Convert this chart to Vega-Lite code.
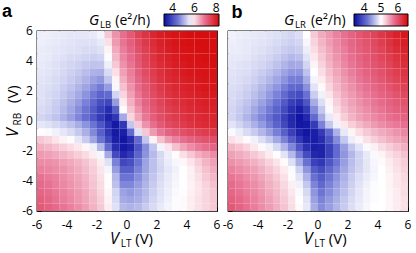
{
"$schema":"https://vega.github.io/schema/vega-lite/v6.json",
"background":"white",
"padding":{"left":1,"top":2,"right":0,"bottom":0},
"config":{"view":{"stroke":"#000","strokeWidth":1.3},"font":"Open Sans",
"axis":{"grid":false,"domain":false,"tickColor":"#000","tickSize":-4,"tickWidth":1,"labels":false},
"legend":{"labelFont":"Open Sans","labelFontSize":12,"labelColor":"#000"}},
"datasets":{"ticks":[{"v":-6},{"v":-4},{"v":-2},{"v":0},{"v":2},{"v":4},{"v":6}],
"grid":[
{"x":-5.75,"y":5.75,"a":5.58,"b":4.92},{"x":-5.25,"y":5.75,"a":5.58,"b":4.9},{"x":-4.75,"y":5.75,"a":5.55,"b":4.89},{"x":-4.25,"y":5.75,"a":5.53,"b":4.87},{"x":-3.75,"y":5.75,"a":5.5,"b":4.86},{"x":-3.25,"y":5.75,"a":5.5,"b":4.84},{"x":-2.75,"y":5.75,"a":5.5,"b":4.82},{"x":-2.25,"y":5.75,"a":5.53,"b":4.79},{"x":-1.75,"y":5.75,"a":5.63,"b":4.76},{"x":-1.25,"y":5.75,"a":6.2,"b":4.81},{"x":-0.75,"y":5.75,"a":6.65,"b":5.0},{"x":-0.25,"y":5.75,"a":6.95,"b":5.29},{"x":0.25,"y":5.75,"a":7.2,"b":5.45},{"x":0.75,"y":5.75,"a":7.5,"b":5.56},{"x":1.25,"y":5.75,"a":7.7,"b":5.67},{"x":1.75,"y":5.75,"a":7.88,"b":5.77},{"x":2.25,"y":5.75,"a":8.0,"b":5.86},{"x":2.75,"y":5.75,"a":8.08,"b":5.96},{"x":3.25,"y":5.75,"a":8.13,"b":6.04},{"x":3.75,"y":5.75,"a":8.15,"b":6.12},{"x":4.25,"y":5.75,"a":8.2,"b":6.22},{"x":4.75,"y":5.75,"a":8.2,"b":6.31},{"x":5.25,"y":5.75,"a":8.2,"b":6.41},{"x":5.75,"y":5.75,"a":8.2,"b":6.49},
{"x":-5.75,"y":5.25,"a":5.58,"b":4.9},{"x":-5.25,"y":5.25,"a":5.55,"b":4.89},{"x":-4.75,"y":5.25,"a":5.53,"b":4.87},{"x":-4.25,"y":5.25,"a":5.5,"b":4.86},{"x":-3.75,"y":5.25,"a":5.48,"b":4.84},{"x":-3.25,"y":5.25,"a":5.45,"b":4.82},{"x":-2.75,"y":5.25,"a":5.45,"b":4.79},{"x":-2.25,"y":5.25,"a":5.45,"b":4.76},{"x":-1.75,"y":5.25,"a":5.53,"b":4.73},{"x":-1.25,"y":5.25,"a":6.0,"b":4.76},{"x":-0.75,"y":5.25,"a":6.58,"b":4.95},{"x":-0.25,"y":5.25,"a":6.9,"b":5.24},{"x":0.25,"y":5.25,"a":7.13,"b":5.4},{"x":0.75,"y":5.25,"a":7.4,"b":5.53},{"x":1.25,"y":5.25,"a":7.63,"b":5.64},{"x":1.75,"y":5.25,"a":7.8,"b":5.74},{"x":2.25,"y":5.25,"a":7.95,"b":5.83},{"x":2.75,"y":5.25,"a":8.03,"b":5.91},{"x":3.25,"y":5.25,"a":8.1,"b":5.99},{"x":3.75,"y":5.25,"a":8.15,"b":6.07},{"x":4.25,"y":5.25,"a":8.18,"b":6.17},{"x":4.75,"y":5.25,"a":8.2,"b":6.26},{"x":5.25,"y":5.25,"a":8.2,"b":6.36},{"x":5.75,"y":5.25,"a":8.2,"b":6.44},
{"x":-5.75,"y":4.75,"a":5.55,"b":4.89},{"x":-5.25,"y":4.75,"a":5.53,"b":4.89},{"x":-4.75,"y":4.75,"a":5.5,"b":4.87},{"x":-4.25,"y":4.75,"a":5.48,"b":4.84},{"x":-3.75,"y":4.75,"a":5.45,"b":4.82},{"x":-3.25,"y":4.75,"a":5.43,"b":4.79},{"x":-2.75,"y":4.75,"a":5.4,"b":4.76},{"x":-2.25,"y":4.75,"a":5.4,"b":4.71},{"x":-1.75,"y":4.75,"a":5.45,"b":4.68},{"x":-1.25,"y":4.75,"a":5.83,"b":4.71},{"x":-0.75,"y":4.75,"a":6.45,"b":4.9},{"x":-0.25,"y":4.75,"a":6.83,"b":5.19},{"x":0.25,"y":4.75,"a":7.05,"b":5.35},{"x":0.75,"y":4.75,"a":7.33,"b":5.48},{"x":1.25,"y":4.75,"a":7.55,"b":5.61},{"x":1.75,"y":4.75,"a":7.75,"b":5.7},{"x":2.25,"y":4.75,"a":7.9,"b":5.8},{"x":2.75,"y":4.75,"a":8.0,"b":5.88},{"x":3.25,"y":4.75,"a":8.08,"b":5.96},{"x":3.75,"y":4.75,"a":8.13,"b":6.04},{"x":4.25,"y":4.75,"a":8.15,"b":6.12},{"x":4.75,"y":4.75,"a":8.18,"b":6.22},{"x":5.25,"y":4.75,"a":8.2,"b":6.31},{"x":5.75,"y":4.75,"a":8.2,"b":6.39},
{"x":-5.75,"y":4.25,"a":5.55,"b":4.87},{"x":-5.25,"y":4.25,"a":5.53,"b":4.87},{"x":-4.75,"y":4.25,"a":5.48,"b":4.86},{"x":-4.25,"y":4.25,"a":5.45,"b":4.82},{"x":-3.75,"y":4.25,"a":5.4,"b":4.79},{"x":-3.25,"y":4.25,"a":5.38,"b":4.76},{"x":-2.75,"y":4.25,"a":5.33,"b":4.71},{"x":-2.25,"y":4.25,"a":5.3,"b":4.65},{"x":-1.75,"y":4.25,"a":5.33,"b":4.6},{"x":-1.25,"y":4.25,"a":5.7,"b":4.63},{"x":-0.75,"y":4.25,"a":6.33,"b":4.84},{"x":-0.25,"y":4.25,"a":6.75,"b":5.13},{"x":0.25,"y":4.25,"a":6.98,"b":5.3},{"x":0.75,"y":4.25,"a":7.25,"b":5.45},{"x":1.25,"y":4.25,"a":7.5,"b":5.58},{"x":1.75,"y":4.25,"a":7.7,"b":5.67},{"x":2.25,"y":4.25,"a":7.85,"b":5.77},{"x":2.75,"y":4.25,"a":7.95,"b":5.85},{"x":3.25,"y":4.25,"a":8.03,"b":5.93},{"x":3.75,"y":4.25,"a":8.1,"b":6.01},{"x":4.25,"y":4.25,"a":8.13,"b":6.09},{"x":4.75,"y":4.25,"a":8.15,"b":6.17},{"x":5.25,"y":4.25,"a":8.18,"b":6.26},{"x":5.75,"y":4.25,"a":8.2,"b":6.34},
{"x":-5.75,"y":3.75,"a":5.53,"b":4.86},{"x":-5.25,"y":3.75,"a":5.5,"b":4.84},{"x":-4.75,"y":3.75,"a":5.45,"b":4.82},{"x":-4.25,"y":3.75,"a":5.4,"b":4.79},{"x":-3.75,"y":3.75,"a":5.35,"b":4.76},{"x":-3.25,"y":3.75,"a":5.3,"b":4.71},{"x":-2.75,"y":3.75,"a":5.23,"b":4.65},{"x":-2.25,"y":3.75,"a":5.18,"b":4.57},{"x":-1.75,"y":3.75,"a":5.2,"b":4.5},{"x":-1.25,"y":3.75,"a":5.58,"b":4.52},{"x":-0.75,"y":3.75,"a":6.2,"b":4.76},{"x":-0.25,"y":3.75,"a":6.65,"b":5.06},{"x":0.25,"y":3.75,"a":6.9,"b":5.24},{"x":0.75,"y":3.75,"a":7.2,"b":5.4},{"x":1.25,"y":3.75,"a":7.45,"b":5.53},{"x":1.75,"y":3.75,"a":7.65,"b":5.64},{"x":2.25,"y":3.75,"a":7.8,"b":5.74},{"x":2.75,"y":3.75,"a":7.9,"b":5.82},{"x":3.25,"y":3.75,"a":8.0,"b":5.9},{"x":3.75,"y":3.75,"a":8.05,"b":5.98},{"x":4.25,"y":3.75,"a":8.1,"b":6.04},{"x":4.75,"y":3.75,"a":8.13,"b":6.12},{"x":5.25,"y":3.75,"a":8.15,"b":6.22},{"x":5.75,"y":3.75,"a":8.18,"b":6.3},
{"x":-5.75,"y":3.25,"a":5.5,"b":4.84},{"x":-5.25,"y":3.25,"a":5.48,"b":4.82},{"x":-4.75,"y":3.25,"a":5.43,"b":4.81},{"x":-4.25,"y":3.25,"a":5.38,"b":4.76},{"x":-3.75,"y":3.25,"a":5.3,"b":4.71},{"x":-3.25,"y":3.25,"a":5.23,"b":4.65},{"x":-2.75,"y":3.25,"a":5.13,"b":4.57},{"x":-2.25,"y":3.25,"a":5.03,"b":4.47},{"x":-1.75,"y":3.25,"a":5.0,"b":4.39},{"x":-1.25,"y":3.25,"a":5.4,"b":4.39},{"x":-0.75,"y":3.25,"a":6.0,"b":4.65},{"x":-0.25,"y":3.25,"a":6.53,"b":5.0},{"x":0.25,"y":3.25,"a":6.83,"b":5.18},{"x":0.75,"y":3.25,"a":7.13,"b":5.35},{"x":1.25,"y":3.25,"a":7.38,"b":5.48},{"x":1.75,"y":3.25,"a":7.58,"b":5.59},{"x":2.25,"y":3.25,"a":7.75,"b":5.69},{"x":2.75,"y":3.25,"a":7.85,"b":5.78},{"x":3.25,"y":3.25,"a":7.95,"b":5.86},{"x":3.75,"y":3.25,"a":8.03,"b":5.93},{"x":4.25,"y":3.25,"a":8.08,"b":6.01},{"x":4.75,"y":3.25,"a":8.1,"b":6.09},{"x":5.25,"y":3.25,"a":8.13,"b":6.17},{"x":5.75,"y":3.25,"a":8.15,"b":6.25},
{"x":-5.75,"y":2.75,"a":5.48,"b":4.82},{"x":-5.25,"y":2.75,"a":5.45,"b":4.81},{"x":-4.75,"y":2.75,"a":5.4,"b":4.78},{"x":-4.25,"y":2.75,"a":5.33,"b":4.73},{"x":-3.75,"y":2.75,"a":5.25,"b":4.66},{"x":-3.25,"y":2.75,"a":5.15,"b":4.58},{"x":-2.75,"y":2.75,"a":5.03,"b":4.49},{"x":-2.25,"y":2.75,"a":4.88,"b":4.38},{"x":-1.75,"y":2.75,"a":4.78,"b":4.26},{"x":-1.25,"y":2.75,"a":5.2,"b":4.25},{"x":-0.75,"y":2.75,"a":5.83,"b":4.52},{"x":-0.25,"y":2.75,"a":6.4,"b":4.94},{"x":0.25,"y":2.75,"a":6.75,"b":5.11},{"x":0.75,"y":2.75,"a":7.05,"b":5.29},{"x":1.25,"y":2.75,"a":7.3,"b":5.43},{"x":1.75,"y":2.75,"a":7.53,"b":5.54},{"x":2.25,"y":2.75,"a":7.7,"b":5.64},{"x":2.75,"y":2.75,"a":7.83,"b":5.74},{"x":3.25,"y":2.75,"a":7.9,"b":5.82},{"x":3.75,"y":2.75,"a":7.98,"b":5.88},{"x":4.25,"y":2.75,"a":8.03,"b":5.96},{"x":4.75,"y":2.75,"a":8.08,"b":6.04},{"x":5.25,"y":2.75,"a":8.1,"b":6.12},{"x":5.75,"y":2.75,"a":8.13,"b":6.2},
{"x":-5.75,"y":2.25,"a":5.45,"b":4.81},{"x":-5.25,"y":2.25,"a":5.43,"b":4.79},{"x":-4.75,"y":2.25,"a":5.38,"b":4.74},{"x":-4.25,"y":2.25,"a":5.28,"b":4.68},{"x":-3.75,"y":2.25,"a":5.18,"b":4.6},{"x":-3.25,"y":2.25,"a":5.05,"b":4.5},{"x":-2.75,"y":2.25,"a":4.9,"b":4.39},{"x":-2.25,"y":2.25,"a":4.7,"b":4.26},{"x":-1.75,"y":2.25,"a":4.53,"b":4.12},{"x":-1.25,"y":2.25,"a":4.83,"b":4.09},{"x":-0.75,"y":2.25,"a":5.65,"b":4.36},{"x":-0.25,"y":2.25,"a":6.25,"b":4.84},{"x":0.25,"y":2.25,"a":6.65,"b":5.03},{"x":0.75,"y":2.25,"a":6.98,"b":5.22},{"x":1.25,"y":2.25,"a":7.23,"b":5.38},{"x":1.75,"y":2.25,"a":7.45,"b":5.5},{"x":2.25,"y":2.25,"a":7.63,"b":5.59},{"x":2.75,"y":2.25,"a":7.75,"b":5.69},{"x":3.25,"y":2.25,"a":7.85,"b":5.77},{"x":3.75,"y":2.25,"a":7.93,"b":5.83},{"x":4.25,"y":2.25,"a":7.98,"b":5.9},{"x":4.75,"y":2.25,"a":8.03,"b":5.98},{"x":5.25,"y":2.25,"a":8.08,"b":6.06},{"x":5.75,"y":2.25,"a":8.1,"b":6.14},
{"x":-5.75,"y":1.75,"a":5.45,"b":4.79},{"x":-5.25,"y":1.75,"a":5.4,"b":4.76},{"x":-4.75,"y":1.75,"a":5.33,"b":4.71},{"x":-4.25,"y":1.75,"a":5.23,"b":4.63},{"x":-3.75,"y":1.75,"a":5.1,"b":4.54},{"x":-3.25,"y":1.75,"a":4.95,"b":4.42},{"x":-2.75,"y":1.75,"a":4.75,"b":4.28},{"x":-2.25,"y":1.75,"a":4.5,"b":4.12},{"x":-1.75,"y":1.75,"a":4.25,"b":3.94},{"x":-1.25,"y":1.75,"a":4.33,"b":3.88},{"x":-0.75,"y":1.75,"a":5.33,"b":4.17},{"x":-0.25,"y":1.75,"a":6.08,"b":4.71},{"x":0.25,"y":1.75,"a":6.53,"b":4.92},{"x":0.75,"y":1.75,"a":6.88,"b":5.14},{"x":1.25,"y":1.75,"a":7.15,"b":5.32},{"x":1.75,"y":1.75,"a":7.38,"b":5.45},{"x":2.25,"y":1.75,"a":7.55,"b":5.54},{"x":2.75,"y":1.75,"a":7.7,"b":5.64},{"x":3.25,"y":1.75,"a":7.8,"b":5.72},{"x":3.75,"y":1.75,"a":7.88,"b":5.78},{"x":4.25,"y":1.75,"a":7.93,"b":5.85},{"x":4.75,"y":1.75,"a":7.98,"b":5.91},{"x":5.25,"y":1.75,"a":8.03,"b":5.99},{"x":5.75,"y":1.75,"a":8.05,"b":6.07},
{"x":-5.75,"y":1.25,"a":5.43,"b":4.78},{"x":-5.25,"y":1.25,"a":5.38,"b":4.73},{"x":-4.75,"y":1.25,"a":5.28,"b":4.66},{"x":-4.25,"y":1.25,"a":5.15,"b":4.57},{"x":-3.75,"y":1.25,"a":5.0,"b":4.46},{"x":-3.25,"y":1.25,"a":4.83,"b":4.33},{"x":-2.75,"y":1.25,"a":4.58,"b":4.17},{"x":-2.25,"y":1.25,"a":4.3,"b":3.99},{"x":-1.75,"y":1.25,"a":4.0,"b":3.78},{"x":-1.25,"y":1.25,"a":3.9,"b":3.69},{"x":-0.75,"y":1.25,"a":4.83,"b":3.96},{"x":-0.25,"y":1.25,"a":5.9,"b":4.52},{"x":0.25,"y":1.25,"a":6.4,"b":4.81},{"x":0.75,"y":1.25,"a":6.78,"b":5.06},{"x":1.25,"y":1.25,"a":7.08,"b":5.26},{"x":1.75,"y":1.25,"a":7.3,"b":5.4},{"x":2.25,"y":1.25,"a":7.48,"b":5.5},{"x":2.75,"y":1.25,"a":7.63,"b":5.59},{"x":3.25,"y":1.25,"a":7.73,"b":5.67},{"x":3.75,"y":1.25,"a":7.8,"b":5.74},{"x":4.25,"y":1.25,"a":7.88,"b":5.8},{"x":4.75,"y":1.25,"a":7.93,"b":5.86},{"x":5.25,"y":1.25,"a":7.98,"b":5.93},{"x":5.75,"y":1.25,"a":8.0,"b":5.99},
{"x":-5.75,"y":0.75,"a":5.4,"b":4.76},{"x":-5.25,"y":0.75,"a":5.35,"b":4.7},{"x":-4.75,"y":0.75,"a":5.25,"b":4.62},{"x":-4.25,"y":0.75,"a":5.1,"b":4.5},{"x":-3.75,"y":0.75,"a":4.93,"b":4.38},{"x":-3.25,"y":0.75,"a":4.7,"b":4.23},{"x":-2.75,"y":0.75,"a":4.45,"b":4.07},{"x":-2.25,"y":0.75,"a":4.15,"b":3.88},{"x":-1.75,"y":0.75,"a":3.83,"b":3.66},{"x":-1.25,"y":0.75,"a":3.58,"b":3.53},{"x":-0.75,"y":0.75,"a":4.2,"b":3.75},{"x":-0.25,"y":0.75,"a":5.7,"b":4.33},{"x":0.25,"y":0.75,"a":6.25,"b":4.68},{"x":0.75,"y":0.75,"a":6.65,"b":4.97},{"x":1.25,"y":0.75,"a":6.98,"b":5.18},{"x":1.75,"y":0.75,"a":7.23,"b":5.34},{"x":2.25,"y":0.75,"a":7.4,"b":5.45},{"x":2.75,"y":0.75,"a":7.55,"b":5.54},{"x":3.25,"y":0.75,"a":7.65,"b":5.62},{"x":3.75,"y":0.75,"a":7.75,"b":5.69},{"x":4.25,"y":0.75,"a":7.83,"b":5.75},{"x":4.75,"y":0.75,"a":7.88,"b":5.82},{"x":5.25,"y":0.75,"a":7.93,"b":5.88},{"x":5.75,"y":0.75,"a":7.95,"b":5.93},
{"x":-5.75,"y":0.25,"a":5.35,"b":4.76},{"x":-5.25,"y":0.25,"a":5.28,"b":4.68},{"x":-4.75,"y":0.25,"a":5.18,"b":4.57},{"x":-4.25,"y":0.25,"a":5.03,"b":4.44},{"x":-3.75,"y":0.25,"a":4.85,"b":4.31},{"x":-3.25,"y":0.25,"a":4.63,"b":4.17},{"x":-2.75,"y":0.25,"a":4.38,"b":3.99},{"x":-2.25,"y":0.25,"a":4.08,"b":3.8},{"x":-1.75,"y":0.25,"a":3.75,"b":3.59},{"x":-1.25,"y":0.25,"a":3.45,"b":3.45},{"x":-0.75,"y":0.25,"a":3.7,"b":3.59},{"x":-0.25,"y":0.25,"a":4.95,"b":4.12},{"x":0.25,"y":0.25,"a":6.08,"b":4.52},{"x":0.75,"y":0.25,"a":6.5,"b":4.87},{"x":1.25,"y":0.25,"a":6.88,"b":5.1},{"x":1.75,"y":0.25,"a":7.15,"b":5.27},{"x":2.25,"y":0.25,"a":7.35,"b":5.4},{"x":2.75,"y":0.25,"a":7.5,"b":5.5},{"x":3.25,"y":0.25,"a":7.6,"b":5.58},{"x":3.75,"y":0.25,"a":7.7,"b":5.64},{"x":4.25,"y":0.25,"a":7.78,"b":5.7},{"x":4.75,"y":0.25,"a":7.83,"b":5.77},{"x":5.25,"y":0.25,"a":7.88,"b":5.82},{"x":5.75,"y":0.25,"a":7.9,"b":5.86},
{"x":-5.75,"y":-0.25,"a":5.5,"b":4.84},{"x":-5.25,"y":-0.25,"a":5.45,"b":4.76},{"x":-4.75,"y":-0.25,"a":5.38,"b":4.66},{"x":-4.25,"y":-0.25,"a":5.28,"b":4.55},{"x":-3.75,"y":-0.25,"a":5.15,"b":4.42},{"x":-3.25,"y":-0.25,"a":4.98,"b":4.26},{"x":-2.75,"y":-0.25,"a":4.75,"b":4.07},{"x":-2.25,"y":-0.25,"a":4.45,"b":3.85},{"x":-1.75,"y":-0.25,"a":4.08,"b":3.62},{"x":-1.25,"y":-0.25,"a":3.65,"b":3.46},{"x":-0.75,"y":-0.25,"a":3.33,"b":3.48},{"x":-0.25,"y":-0.25,"a":3.7,"b":3.75},{"x":0.25,"y":-0.25,"a":5.2,"b":4.28},{"x":0.75,"y":-0.25,"a":6.2,"b":4.68},{"x":1.25,"y":-0.25,"a":6.65,"b":4.92},{"x":1.75,"y":-0.25,"a":6.95,"b":5.13},{"x":2.25,"y":-0.25,"a":7.2,"b":5.26},{"x":2.75,"y":-0.25,"a":7.38,"b":5.37},{"x":3.25,"y":-0.25,"a":7.5,"b":5.46},{"x":3.75,"y":-0.25,"a":7.6,"b":5.54},{"x":4.25,"y":-0.25,"a":7.7,"b":5.61},{"x":4.75,"y":-0.25,"a":7.78,"b":5.67},{"x":5.25,"y":-0.25,"a":7.83,"b":5.72},{"x":5.75,"y":-0.25,"a":7.85,"b":5.77},
{"x":-5.75,"y":-0.75,"a":5.75,"b":4.97},{"x":-5.25,"y":-0.75,"a":5.68,"b":4.89},{"x":-4.75,"y":-0.75,"a":5.6,"b":4.79},{"x":-4.25,"y":-0.75,"a":5.5,"b":4.7},{"x":-3.75,"y":-0.75,"a":5.4,"b":4.58},{"x":-3.25,"y":-0.75,"a":5.23,"b":4.44},{"x":-2.75,"y":-0.75,"a":5.0,"b":4.26},{"x":-2.25,"y":-0.75,"a":4.65,"b":4.04},{"x":-1.75,"y":-0.75,"a":4.2,"b":3.78},{"x":-1.25,"y":-0.75,"a":3.7,"b":3.56},{"x":-0.75,"y":-0.75,"a":3.33,"b":3.45},{"x":-0.25,"y":-0.75,"a":3.4,"b":3.53},{"x":0.25,"y":-0.75,"a":4.33,"b":3.75},{"x":0.75,"y":-0.75,"a":5.45,"b":4.12},{"x":1.25,"y":-0.75,"a":6.2,"b":4.55},{"x":1.75,"y":-0.75,"a":6.58,"b":4.87},{"x":2.25,"y":-0.75,"a":6.88,"b":5.06},{"x":2.75,"y":-0.75,"a":7.08,"b":5.19},{"x":3.25,"y":-0.75,"a":7.2,"b":5.3},{"x":3.75,"y":-0.75,"a":7.33,"b":5.38},{"x":4.25,"y":-0.75,"a":7.43,"b":5.45},{"x":4.75,"y":-0.75,"a":7.5,"b":5.51},{"x":5.25,"y":-0.75,"a":7.58,"b":5.58},{"x":5.75,"y":-0.75,"a":7.63,"b":5.64},
{"x":-5.75,"y":-1.25,"a":6.2,"b":5.16},{"x":-5.25,"y":-1.25,"a":6.1,"b":5.1},{"x":-4.75,"y":-1.25,"a":5.95,"b":5.02},{"x":-4.25,"y":-1.25,"a":5.83,"b":4.92},{"x":-3.75,"y":-1.25,"a":5.7,"b":4.81},{"x":-3.25,"y":-1.25,"a":5.5,"b":4.68},{"x":-2.75,"y":-1.25,"a":5.25,"b":4.5},{"x":-2.25,"y":-1.25,"a":4.9,"b":4.28},{"x":-1.75,"y":-1.25,"a":4.45,"b":4.01},{"x":-1.25,"y":-1.25,"a":3.9,"b":3.72},{"x":-0.75,"y":-1.25,"a":3.4,"b":3.53},{"x":-0.25,"y":-1.25,"a":3.28,"b":3.51},{"x":0.25,"y":-1.25,"a":3.58,"b":3.64},{"x":0.75,"y":-1.25,"a":4.33,"b":3.94},{"x":1.25,"y":-1.25,"a":5.2,"b":4.33},{"x":1.75,"y":-1.25,"a":5.83,"b":4.68},{"x":2.25,"y":-1.25,"a":6.25,"b":4.9},{"x":2.75,"y":-1.25,"a":6.58,"b":5.05},{"x":3.25,"y":-1.25,"a":6.8,"b":5.16},{"x":3.75,"y":-1.25,"a":6.95,"b":5.26},{"x":4.25,"y":-1.25,"a":7.08,"b":5.34},{"x":4.75,"y":-1.25,"a":7.2,"b":5.42},{"x":5.25,"y":-1.25,"a":7.28,"b":5.48},{"x":5.75,"y":-1.25,"a":7.35,"b":5.54},
{"x":-5.75,"y":-1.75,"a":6.4,"b":5.38},{"x":-5.25,"y":-1.75,"a":6.33,"b":5.32},{"x":-4.75,"y":-1.75,"a":6.23,"b":5.24},{"x":-4.25,"y":-1.75,"a":6.13,"b":5.13},{"x":-3.75,"y":-1.75,"a":6.03,"b":5.03},{"x":-3.25,"y":-1.75,"a":5.93,"b":4.92},{"x":-2.75,"y":-1.75,"a":5.8,"b":4.78},{"x":-2.25,"y":-1.75,"a":5.58,"b":4.57},{"x":-1.75,"y":-1.75,"a":5.08,"b":4.31},{"x":-1.25,"y":-1.75,"a":4.33,"b":3.96},{"x":-0.75,"y":-1.75,"a":3.58,"b":3.66},{"x":-0.25,"y":-1.75,"a":3.33,"b":3.53},{"x":0.25,"y":-1.75,"a":3.45,"b":3.56},{"x":0.75,"y":-1.75,"a":4.08,"b":3.8},{"x":1.25,"y":-1.75,"a":4.7,"b":4.12},{"x":1.75,"y":-1.75,"a":5.2,"b":4.44},{"x":2.25,"y":-1.75,"a":5.63,"b":4.68},{"x":2.75,"y":-1.75,"a":5.95,"b":4.84},{"x":3.25,"y":-1.75,"a":6.25,"b":4.97},{"x":3.75,"y":-1.75,"a":6.5,"b":5.08},{"x":4.25,"y":-1.75,"a":6.7,"b":5.18},{"x":4.75,"y":-1.75,"a":6.85,"b":5.26},{"x":5.25,"y":-1.75,"a":6.95,"b":5.34},{"x":5.75,"y":-1.75,"a":7.05,"b":5.42},
{"x":-5.75,"y":-2.25,"a":6.58,"b":5.5},{"x":-5.25,"y":-2.25,"a":6.53,"b":5.45},{"x":-4.75,"y":-2.25,"a":6.45,"b":5.38},{"x":-4.25,"y":-2.25,"a":6.35,"b":5.3},{"x":-3.75,"y":-2.25,"a":6.25,"b":5.21},{"x":-3.25,"y":-2.25,"a":6.15,"b":5.11},{"x":-2.75,"y":-2.25,"a":6.03,"b":5.0},{"x":-2.25,"y":-2.25,"a":5.88,"b":4.84},{"x":-1.75,"y":-2.25,"a":5.65,"b":4.6},{"x":-1.25,"y":-2.25,"a":4.95,"b":4.25},{"x":-0.75,"y":-2.25,"a":3.95,"b":3.88},{"x":-0.25,"y":-2.25,"a":3.5,"b":3.59},{"x":0.25,"y":-2.25,"a":3.7,"b":3.56},{"x":0.75,"y":-2.25,"a":4.25,"b":3.8},{"x":1.25,"y":-2.25,"a":4.75,"b":4.12},{"x":1.75,"y":-2.25,"a":5.1,"b":4.39},{"x":2.25,"y":-2.25,"a":5.38,"b":4.58},{"x":2.75,"y":-2.25,"a":5.58,"b":4.74},{"x":3.25,"y":-2.25,"a":5.75,"b":4.87},{"x":3.75,"y":-2.25,"a":6.0,"b":4.97},{"x":4.25,"y":-2.25,"a":6.2,"b":5.06},{"x":4.75,"y":-2.25,"a":6.4,"b":5.16},{"x":5.25,"y":-2.25,"a":6.55,"b":5.24},{"x":5.75,"y":-2.25,"a":6.7,"b":5.32},
{"x":-5.75,"y":-2.75,"a":6.7,"b":5.59},{"x":-5.25,"y":-2.75,"a":6.68,"b":5.54},{"x":-4.75,"y":-2.75,"a":6.63,"b":5.48},{"x":-4.25,"y":-2.75,"a":6.53,"b":5.42},{"x":-3.75,"y":-2.75,"a":6.45,"b":5.34},{"x":-3.25,"y":-2.75,"a":6.35,"b":5.24},{"x":-2.75,"y":-2.75,"a":6.23,"b":5.14},{"x":-2.25,"y":-2.75,"a":6.08,"b":5.02},{"x":-1.75,"y":-2.75,"a":5.88,"b":4.82},{"x":-1.25,"y":-2.75,"a":5.45,"b":4.52},{"x":-0.75,"y":-2.75,"a":4.58,"b":4.17},{"x":-0.25,"y":-2.75,"a":3.9,"b":3.8},{"x":0.25,"y":-2.75,"a":4.0,"b":3.72},{"x":0.75,"y":-2.75,"a":4.45,"b":3.96},{"x":1.25,"y":-2.75,"a":4.88,"b":4.2},{"x":1.75,"y":-2.75,"a":5.15,"b":4.44},{"x":2.25,"y":-2.75,"a":5.38,"b":4.62},{"x":2.75,"y":-2.75,"a":5.55,"b":4.74},{"x":3.25,"y":-2.75,"a":5.65,"b":4.86},{"x":3.75,"y":-2.75,"a":5.8,"b":4.95},{"x":4.25,"y":-2.75,"a":5.95,"b":5.03},{"x":4.75,"y":-2.75,"a":6.15,"b":5.11},{"x":5.25,"y":-2.75,"a":6.35,"b":5.19},{"x":5.75,"y":-2.75,"a":6.53,"b":5.27},
{"x":-5.75,"y":-3.25,"a":6.8,"b":5.67},{"x":-5.25,"y":-3.25,"a":6.75,"b":5.62},{"x":-4.75,"y":-3.25,"a":6.7,"b":5.56},{"x":-4.25,"y":-3.25,"a":6.63,"b":5.5},{"x":-3.75,"y":-3.25,"a":6.53,"b":5.42},{"x":-3.25,"y":-3.25,"a":6.43,"b":5.32},{"x":-2.75,"y":-3.25,"a":6.3,"b":5.22},{"x":-2.25,"y":-3.25,"a":6.15,"b":5.11},{"x":-1.75,"y":-3.25,"a":5.95,"b":4.97},{"x":-1.25,"y":-3.25,"a":5.63,"b":4.73},{"x":-0.75,"y":-3.25,"a":4.83,"b":4.39},{"x":-0.25,"y":-3.25,"a":4.2,"b":4.01},{"x":0.25,"y":-3.25,"a":4.2,"b":3.88},{"x":0.75,"y":-3.25,"a":4.58,"b":4.1},{"x":1.25,"y":-3.25,"a":4.9,"b":4.3},{"x":1.75,"y":-3.25,"a":5.15,"b":4.49},{"x":2.25,"y":-3.25,"a":5.35,"b":4.65},{"x":2.75,"y":-3.25,"a":5.5,"b":4.76},{"x":3.25,"y":-3.25,"a":5.6,"b":4.86},{"x":3.75,"y":-3.25,"a":5.73,"b":4.94},{"x":4.25,"y":-3.25,"a":5.85,"b":5.0},{"x":4.75,"y":-3.25,"a":6.05,"b":5.08},{"x":5.25,"y":-3.25,"a":6.25,"b":5.16},{"x":5.75,"y":-3.25,"a":6.43,"b":5.24},
{"x":-5.75,"y":-3.75,"a":6.93,"b":5.74},{"x":-5.25,"y":-3.75,"a":6.85,"b":5.69},{"x":-4.75,"y":-3.75,"a":6.78,"b":5.62},{"x":-4.25,"y":-3.75,"a":6.68,"b":5.56},{"x":-3.75,"y":-3.75,"a":6.58,"b":5.48},{"x":-3.25,"y":-3.75,"a":6.48,"b":5.38},{"x":-2.75,"y":-3.75,"a":6.35,"b":5.29},{"x":-2.25,"y":-3.75,"a":6.2,"b":5.16},{"x":-1.75,"y":-3.75,"a":6.0,"b":5.03},{"x":-1.25,"y":-3.75,"a":5.75,"b":4.84},{"x":-0.75,"y":-3.75,"a":5.08,"b":4.55},{"x":-0.25,"y":-3.75,"a":4.45,"b":4.17},{"x":0.25,"y":-3.75,"a":4.45,"b":4.01},{"x":0.75,"y":-3.75,"a":4.7,"b":4.2},{"x":1.25,"y":-3.75,"a":4.98,"b":4.38},{"x":1.75,"y":-3.75,"a":5.2,"b":4.55},{"x":2.25,"y":-3.75,"a":5.4,"b":4.7},{"x":2.75,"y":-3.75,"a":5.53,"b":4.81},{"x":3.25,"y":-3.75,"a":5.63,"b":4.89},{"x":3.75,"y":-3.75,"a":5.73,"b":4.95},{"x":4.25,"y":-3.75,"a":5.85,"b":5.0},{"x":4.75,"y":-3.75,"a":6.0,"b":5.06},{"x":5.25,"y":-3.75,"a":6.18,"b":5.13},{"x":5.75,"y":-3.75,"a":6.33,"b":5.21},
{"x":-5.75,"y":-4.25,"a":7.0,"b":5.8},{"x":-5.25,"y":-4.25,"a":6.93,"b":5.74},{"x":-4.75,"y":-4.25,"a":6.83,"b":5.67},{"x":-4.25,"y":-4.25,"a":6.73,"b":5.61},{"x":-3.75,"y":-4.25,"a":6.63,"b":5.53},{"x":-3.25,"y":-4.25,"a":6.53,"b":5.43},{"x":-2.75,"y":-4.25,"a":6.4,"b":5.34},{"x":-2.25,"y":-4.25,"a":6.23,"b":5.21},{"x":-1.75,"y":-4.25,"a":6.03,"b":5.08},{"x":-1.25,"y":-4.25,"a":5.75,"b":4.92},{"x":-0.75,"y":-4.25,"a":5.15,"b":4.68},{"x":-0.25,"y":-4.25,"a":4.63,"b":4.3},{"x":0.25,"y":-4.25,"a":4.63,"b":4.1},{"x":0.75,"y":-4.25,"a":4.83,"b":4.28},{"x":1.25,"y":-4.25,"a":5.05,"b":4.44},{"x":1.75,"y":-4.25,"a":5.25,"b":4.6},{"x":2.25,"y":-4.25,"a":5.43,"b":4.73},{"x":2.75,"y":-4.25,"a":5.55,"b":4.84},{"x":3.25,"y":-4.25,"a":5.65,"b":4.92},{"x":3.75,"y":-4.25,"a":5.73,"b":4.98},{"x":4.25,"y":-4.25,"a":5.83,"b":5.0},{"x":4.75,"y":-4.25,"a":5.95,"b":5.06},{"x":5.25,"y":-4.25,"a":6.1,"b":5.13},{"x":5.75,"y":-4.25,"a":6.25,"b":5.19},
{"x":-5.75,"y":-4.75,"a":7.05,"b":5.83},{"x":-5.25,"y":-4.75,"a":6.98,"b":5.77},{"x":-4.75,"y":-4.75,"a":6.88,"b":5.7},{"x":-4.25,"y":-4.75,"a":6.78,"b":5.64},{"x":-3.75,"y":-4.75,"a":6.68,"b":5.56},{"x":-3.25,"y":-4.75,"a":6.58,"b":5.46},{"x":-2.75,"y":-4.75,"a":6.45,"b":5.37},{"x":-2.25,"y":-4.75,"a":6.28,"b":5.26},{"x":-1.75,"y":-4.75,"a":6.08,"b":5.13},{"x":-1.25,"y":-4.75,"a":5.8,"b":4.97},{"x":-0.75,"y":-4.75,"a":5.33,"b":4.78},{"x":-0.25,"y":-4.75,"a":4.88,"b":4.39},{"x":0.25,"y":-4.75,"a":4.8,"b":4.2},{"x":0.75,"y":-4.75,"a":4.93,"b":4.34},{"x":1.25,"y":-4.75,"a":5.1,"b":4.49},{"x":1.75,"y":-4.75,"a":5.3,"b":4.63},{"x":2.25,"y":-4.75,"a":5.45,"b":4.76},{"x":2.75,"y":-4.75,"a":5.58,"b":4.86},{"x":3.25,"y":-4.75,"a":5.68,"b":4.94},{"x":3.75,"y":-4.75,"a":5.75,"b":4.98},{"x":4.25,"y":-4.75,"a":5.85,"b":5.0},{"x":4.75,"y":-4.75,"a":5.95,"b":5.05},{"x":5.25,"y":-4.75,"a":6.08,"b":5.11},{"x":5.75,"y":-4.75,"a":6.2,"b":5.18},
{"x":-5.75,"y":-5.25,"a":7.13,"b":5.88},{"x":-5.25,"y":-5.25,"a":7.03,"b":5.82},{"x":-4.75,"y":-5.25,"a":6.93,"b":5.74},{"x":-4.25,"y":-5.25,"a":6.83,"b":5.67},{"x":-3.75,"y":-5.25,"a":6.73,"b":5.59},{"x":-3.25,"y":-5.25,"a":6.6,"b":5.5},{"x":-2.75,"y":-5.25,"a":6.48,"b":5.4},{"x":-2.25,"y":-5.25,"a":6.33,"b":5.29},{"x":-1.75,"y":-5.25,"a":6.13,"b":5.16},{"x":-1.25,"y":-5.25,"a":5.83,"b":5.0},{"x":-0.75,"y":-5.25,"a":5.4,"b":4.84},{"x":-0.25,"y":-5.25,"a":4.95,"b":4.46},{"x":0.25,"y":-5.25,"a":4.9,"b":4.28},{"x":0.75,"y":-5.25,"a":4.98,"b":4.41},{"x":1.25,"y":-5.25,"a":5.15,"b":4.54},{"x":1.75,"y":-5.25,"a":5.35,"b":4.68},{"x":2.25,"y":-5.25,"a":5.48,"b":4.79},{"x":2.75,"y":-5.25,"a":5.6,"b":4.87},{"x":3.25,"y":-5.25,"a":5.7,"b":4.94},{"x":3.75,"y":-5.25,"a":5.78,"b":4.98},{"x":4.25,"y":-5.25,"a":5.88,"b":5.0},{"x":4.75,"y":-5.25,"a":5.98,"b":5.05},{"x":5.25,"y":-5.25,"a":6.08,"b":5.1},{"x":5.75,"y":-5.25,"a":6.2,"b":5.16},
{"x":-5.75,"y":-5.75,"a":7.2,"b":5.94},{"x":-5.25,"y":-5.75,"a":7.1,"b":5.86},{"x":-4.75,"y":-5.75,"a":7.0,"b":5.78},{"x":-4.25,"y":-5.75,"a":6.9,"b":5.7},{"x":-3.75,"y":-5.75,"a":6.8,"b":5.62},{"x":-3.25,"y":-5.75,"a":6.68,"b":5.53},{"x":-2.75,"y":-5.75,"a":6.55,"b":5.43},{"x":-2.25,"y":-5.75,"a":6.38,"b":5.32},{"x":-1.75,"y":-5.75,"a":6.18,"b":5.19},{"x":-1.25,"y":-5.75,"a":5.88,"b":5.03},{"x":-0.75,"y":-5.75,"a":5.45,"b":4.87},{"x":-0.25,"y":-5.75,"a":5.08,"b":4.52},{"x":0.25,"y":-5.75,"a":5.03,"b":4.33},{"x":0.75,"y":-5.75,"a":5.1,"b":4.44},{"x":1.25,"y":-5.75,"a":5.25,"b":4.57},{"x":1.75,"y":-5.75,"a":5.4,"b":4.7},{"x":2.25,"y":-5.75,"a":5.53,"b":4.81},{"x":2.75,"y":-5.75,"a":5.63,"b":4.89},{"x":3.25,"y":-5.75,"a":5.7,"b":4.95},{"x":3.75,"y":-5.75,"a":5.78,"b":5.0},{"x":4.25,"y":-5.75,"a":5.88,"b":5.0},{"x":4.75,"y":-5.75,"a":5.98,"b":5.05},{"x":5.25,"y":-5.75,"a":6.08,"b":5.1},{"x":5.75,"y":-5.75,"a":6.18,"b":5.16}
]},
"hconcat":[
{"width":180,"height":180,"layer":[
{"data":{"name":"grid"},"mark":{"type":"rect","width":7.6,"height":7.6,"clip":true},
"encoding":{
"x":{"field":"x","type":"quantitative","scale":{"domain":[-6,6],"nice":false,"zero":false},"axis":{"values":[-6,-4,-2,0,2,4,6],"title":null}},
"y":{"field":"y","type":"quantitative","scale":{"domain":[-6,6],"nice":false,"zero":false},"axis":{"values":[-6,-4,-2,0,2,4,6],"title":null}},
"color":{"field":"a","type":"quantitative","scale":{"domain":[3.2,4.4625,5.725,6.9875,8.25],"range":["#0b0fa0","#6c74d4","#ffffff","#e66a8c","#d50a0a"],"interpolate":"rgb"},
"legend":{"orient":"none","legendX":127,"legendY":-17,"direction":"horizontal","gradientLength":55,"gradientThickness":12,"values":[4,6,8],"title":null,"labelOffset":-23,"labelAlign":"center","gradientStrokeColor":"#000","gradientStrokeWidth":1}}}},
{"data":{"name":"ticks"},"mark":{"type":"text","fontSize":12,"align":"center","baseline":"alphabetic","color":"#000"},"encoding":{"x":{"field":"v","type":"quantitative","title":null},"y":{"datum":-7.17},"text":{"field":"v","type":"nominal"}}},
{"data":{"name":"ticks"},"mark":{"type":"text","fontSize":12,"align":"right","baseline":"middle","color":"#000"},"encoding":{"y":{"field":"v","type":"quantitative","title":null},"x":{"datum":-6.27},"text":{"field":"v","type":"nominal"}}},
{"data":{"values":[{}]},"mark":{"type":"text","text":"a","font":"Liberation Sans","fontWeight":"bold","fontSize":18,"align":"center","baseline":"alphabetic"},"encoding":{"x":{"datum":-8.0},"y":{"datum":6.93}}},
{"data":{"values":[{}]},"mark":{"type":"text","text":"G","fontStyle":"italic","fontSize":15,"align":"left","baseline":"alphabetic"},"encoding":{"x":{"datum":-2.53},"y":{"datum":6.4}}},
{"data":{"values":[{}]},"mark":{"type":"text","text":"LB","fontSize":9.5,"align":"left","baseline":"alphabetic"},"encoding":{"x":{"datum":-1.8},"y":{"datum":6.2}}},
{"data":{"values":[{}]},"mark":{"type":"text","text":"(e²/h)","fontSize":14,"align":"left","baseline":"alphabetic"},"encoding":{"x":{"datum":-0.78},"y":{"datum":6.4}}},
{"data":{"values":[{}]},"mark":{"type":"text","text":"V","fontStyle":"italic","fontSize":16,"align":"left","baseline":"alphabetic"},"encoding":{"x":{"datum":-1.13},"y":{"datum":-8.2}}},
{"data":{"values":[{}]},"mark":{"type":"text","text":"LT","fontSize":10,"align":"left","baseline":"alphabetic"},"encoding":{"x":{"datum":-0.42},"y":{"datum":-8.4}}},
{"data":{"values":[{}]},"mark":{"type":"text","text":"(V)","fontSize":15,"align":"left","baseline":"alphabetic"},"encoding":{"x":{"datum":0.55},"y":{"datum":-8.2}}},
{"data":{"values":[{}]},"mark":{"type":"text","text":"V","fontStyle":"italic","fontSize":16,"align":"left","baseline":"alphabetic","angle":270},"encoding":{"x":{"datum":-7.3},"y":{"datum":-1.07}}},
{"data":{"values":[{}]},"mark":{"type":"text","text":"RB","fontSize":10,"align":"left","baseline":"alphabetic","angle":270},"encoding":{"x":{"datum":-7.1},"y":{"datum":-0.3}}},
{"data":{"values":[{}]},"mark":{"type":"text","text":"(V)","fontSize":15,"align":"left","baseline":"alphabetic","angle":270},"encoding":{"x":{"datum":-7.3},"y":{"datum":1.2}}}
]},
{"width":180,"height":180,"layer":[
{"data":{"name":"grid"},"mark":{"type":"rect","width":7.6,"height":7.6,"clip":true},
"encoding":{
"x":{"field":"x","type":"quantitative","scale":{"domain":[-6,6],"nice":false,"zero":false},"axis":{"values":[-6,-4,-2,0,2,4,6],"title":null}},
"y":{"field":"y","type":"quantitative","scale":{"domain":[-6,6],"nice":false,"zero":false},"axis":{"values":[-6,-4,-2,0,2,4,6],"title":null}},
"color":{"field":"b","type":"quantitative","scale":{"domain":[3.4,4.2,5.0,5.8,6.6],"range":["#0b0fa0","#6c74d4","#ffffff","#e66a8c","#d50a0a"],"interpolate":"rgb"},
"legend":{"orient":"none","legendX":126,"legendY":-17,"direction":"horizontal","gradientLength":54,"gradientThickness":12,"values":[4,5,6],"title":null,"labelOffset":-23,"labelAlign":"center","gradientStrokeColor":"#000","gradientStrokeWidth":1}}}},
{"data":{"name":"ticks"},"mark":{"type":"text","fontSize":12,"align":"center","baseline":"alphabetic","color":"#000"},"encoding":{"x":{"field":"v","type":"quantitative","title":null},"y":{"datum":-7.17},"text":{"field":"v","type":"nominal"}}},
{"data":{"values":[{}]},"mark":{"type":"text","text":"b","font":"Liberation Sans","fontWeight":"bold","fontSize":18,"align":"center","baseline":"alphabetic"},"encoding":{"x":{"datum":-5.4},"y":{"datum":6.87}}},
{"data":{"values":[{}]},"mark":{"type":"text","text":"G","fontStyle":"italic","fontSize":15,"align":"left","baseline":"alphabetic"},"encoding":{"x":{"datum":-2.27},"y":{"datum":6.4}}},
{"data":{"values":[{}]},"mark":{"type":"text","text":"LR","fontSize":9.5,"align":"left","baseline":"alphabetic"},"encoding":{"x":{"datum":-1.53},"y":{"datum":6.2}}},
{"data":{"values":[{}]},"mark":{"type":"text","text":"(e²/h)","fontSize":14,"align":"left","baseline":"alphabetic"},"encoding":{"x":{"datum":-0.47},"y":{"datum":6.4}}},
{"data":{"values":[{}]},"mark":{"type":"text","text":"V","fontStyle":"italic","fontSize":16,"align":"left","baseline":"alphabetic"},"encoding":{"x":{"datum":-0.95},"y":{"datum":-8.2}}},
{"data":{"values":[{}]},"mark":{"type":"text","text":"LT","fontSize":10,"align":"left","baseline":"alphabetic"},"encoding":{"x":{"datum":-0.25},"y":{"datum":-8.4}}},
{"data":{"values":[{}]},"mark":{"type":"text","text":"(V)","fontSize":15,"align":"left","baseline":"alphabetic"},"encoding":{"x":{"datum":0.72},"y":{"datum":-8.2}}}
]}
],
"spacing":11,
"bounds":"flush",
"resolve":{"scale":{"color":"independent"},"legend":{"color":"independent"}}
}
